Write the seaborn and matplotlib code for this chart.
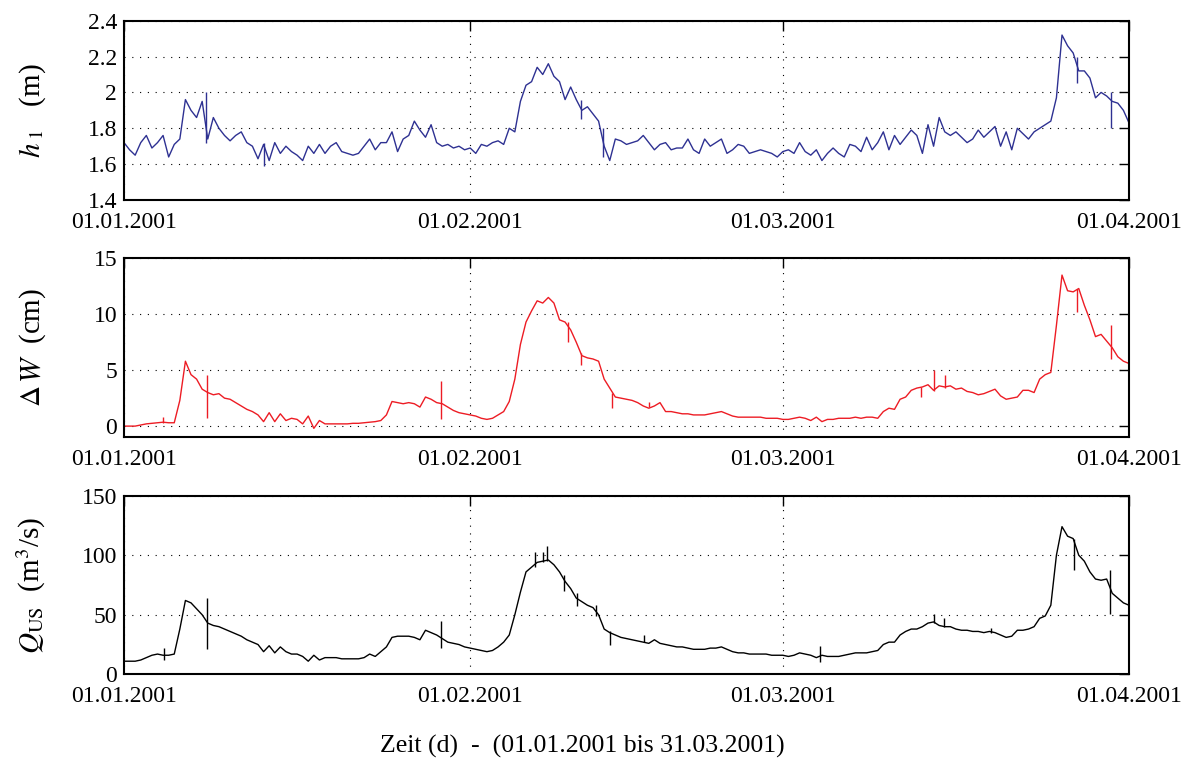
import numpy as np
import pandas as pd
import matplotlib
matplotlib.use("Agg")
import matplotlib.pyplot as plt
from matplotlib.ticker import FuncFormatter
import seaborn as sns

# ---------------- data (0.5-day steps, day 0 = 01.01.2001) ----------------
step_days = 0.5

h1_m = [
    1.72, 1.68, 1.65, 1.72, 1.76, 1.69, 1.72, 1.76, 1.64, 1.71,
    1.74, 1.96, 1.90, 1.86, 1.95, 1.74, 1.86, 1.80, 1.76, 1.73,
    1.76, 1.78, 1.72, 1.70, 1.63, 1.71, 1.62, 1.72, 1.66, 1.70,
    1.67, 1.65, 1.62, 1.70, 1.66, 1.71, 1.66, 1.70, 1.72, 1.67,
    1.66, 1.65, 1.66, 1.70, 1.74, 1.68, 1.72, 1.72, 1.78, 1.67,
    1.74, 1.76, 1.84, 1.79, 1.75, 1.82, 1.72, 1.70, 1.71, 1.69,
    1.70, 1.68, 1.69, 1.66, 1.71, 1.70, 1.72, 1.73, 1.71, 1.80,
    1.78, 1.95, 2.04, 2.06, 2.14, 2.10, 2.16, 2.09, 2.06, 1.96,
    2.03, 1.96, 1.90, 1.92, 1.88, 1.84, 1.70, 1.62, 1.74, 1.73,
    1.71, 1.72, 1.73, 1.76, 1.72, 1.68, 1.71, 1.72, 1.68, 1.69,
    1.69, 1.74, 1.68, 1.66, 1.74, 1.70, 1.72, 1.74, 1.66, 1.68,
    1.71, 1.70, 1.66, 1.67, 1.68, 1.67, 1.66, 1.64, 1.67, 1.68,
    1.66, 1.72, 1.67, 1.65, 1.68, 1.62, 1.66, 1.69, 1.66, 1.64,
    1.71, 1.70, 1.67, 1.75, 1.68, 1.72, 1.78, 1.68, 1.76, 1.71,
    1.75, 1.79, 1.76, 1.66, 1.82, 1.70, 1.86, 1.78, 1.76, 1.78,
    1.75, 1.72, 1.74, 1.79, 1.75, 1.78, 1.81, 1.70, 1.78, 1.68,
    1.80, 1.77, 1.74, 1.78, 1.80, 1.82, 1.84, 1.97, 2.32, 2.26,
    2.22, 2.12, 2.12, 2.08, 1.97, 2.00, 1.98, 1.95, 1.94, 1.90,
    1.83,
]

dW_cm = [
    0.0, 0.0, 0.0, 0.1, 0.2, 0.25, 0.3, 0.35, 0.3, 0.3,
    2.3, 5.8, 4.6, 4.2, 3.3, 3.0, 2.8, 2.9, 2.5, 2.4,
    2.1, 1.8, 1.5, 1.3, 1.0, 0.4, 1.2, 0.4, 1.1, 0.5,
    0.7, 0.6, 0.2, 0.9, -0.2, 0.5, 0.2, 0.2, 0.2, 0.2,
    0.2, 0.25, 0.25, 0.3, 0.35, 0.4, 0.5, 1.0, 2.2, 2.1,
    2.0, 2.1, 2.0, 1.7, 2.6, 2.4, 2.1, 2.0, 1.7, 1.4,
    1.2, 1.1, 1.0, 0.9, 0.7, 0.6, 0.7, 1.0, 1.3, 2.2,
    4.2, 7.3, 9.3, 10.3, 11.2, 11.0, 11.5, 11.0, 9.5, 9.3,
    8.6, 7.5, 6.3, 6.1, 6.0, 5.8, 4.2, 3.4, 2.6, 2.5,
    2.4, 2.3, 2.1, 1.8, 1.6, 1.8, 2.1, 1.3, 1.3, 1.2,
    1.1, 1.1, 1.0, 1.0, 1.0, 1.1, 1.2, 1.3, 1.1, 0.9,
    0.8, 0.8, 0.8, 0.8, 0.8, 0.7, 0.7, 0.7, 0.6, 0.6,
    0.7, 0.8, 0.7, 0.5, 0.8, 0.4, 0.6, 0.6, 0.7, 0.7,
    0.7, 0.8, 0.7, 0.8, 0.8, 0.7, 1.3, 1.6, 1.5, 2.4,
    2.6, 3.2, 3.4, 3.5, 3.7, 3.2, 3.6, 3.5, 3.6, 3.3,
    3.4, 3.1, 3.0, 2.8, 2.9, 3.1, 3.3, 2.7, 2.4, 2.5,
    2.6, 3.2, 3.2, 3.0, 4.2, 4.6, 4.8, 9.0, 13.5, 12.1,
    12.0, 12.3, 10.8, 9.5, 8.0, 8.2, 7.6, 7.0, 6.2, 5.8,
    5.6,
]

Q_m3s = [
    11, 11, 11, 12, 14, 16, 17, 16, 16, 17,
    38, 62, 60, 55, 50, 43, 41, 40, 38, 36,
    34, 32, 29, 27, 25, 19, 24, 18, 23, 19,
    17, 17, 15, 11, 16, 12, 14, 14, 14, 13,
    13, 13, 13, 14, 17, 15, 19, 23, 31, 32,
    32, 32, 31, 29, 37, 35, 33, 30, 27, 26,
    25, 23, 22, 21, 20, 19, 20, 23, 27, 33,
    50, 69, 86, 90, 94, 95, 96, 92, 86, 78,
    72, 64, 61, 58, 56, 50, 38, 35, 33, 31,
    30, 29, 28, 27, 26, 29, 26, 25, 24, 23,
    23, 22, 21, 21, 21, 22, 22, 23, 21, 19,
    18, 18, 17, 17, 17, 17, 16, 16, 16, 15,
    16, 18, 17, 16, 14, 16, 15, 15, 15, 16,
    17, 18, 18, 18, 19, 20, 25, 27, 27, 33,
    36, 38, 38, 40, 43, 44, 41, 40, 40, 38,
    37, 37, 36, 36, 35, 36, 35, 33, 31, 32,
    37, 37, 38, 40, 47, 49, 58, 100, 124, 116,
    114, 100, 95, 86, 80, 79, 80, 68, 64, 60,
    58,
]

# short spikes in the records: day, lower end, upper end
h1_spike_day = [7.3, 12.5, 40.9, 42.9, 85.3, 88.4]
h1_spike_lo = [1.72, 1.59, 1.85, 1.64, 2.05, 1.80]
h1_spike_hi = [2.00, 1.72, 1.96, 1.80, 2.20, 2.00]

dW_spike_day = [3.5, 7.4, 28.4, 39.8, 40.9, 43.7, 47.0, 71.4, 72.5, 73.5, 85.3, 88.4]
dW_spike_lo = [0.3, 0.7, 0.6, 7.5, 5.5, 1.6, 1.7, 2.6, 3.1, 3.4, 10.2, 6.0]
dW_spike_hi = [0.8, 4.6, 4.0, 9.3, 6.5, 3.0, 2.2, 3.5, 5.0, 4.6, 12.3, 9.0]

Q_spike_day = [3.6, 7.4, 28.4, 36.8, 37.5, 37.9, 39.4, 40.6, 42.3, 43.5, 46.6, 62.3, 72.5, 73.4, 77.6, 85.1, 88.3]
Q_spike_lo = [12, 21, 22, 90, 94, 95, 70, 57, 49, 25, 27, 10, 43, 40, 35, 88, 51]
Q_spike_hi = [22, 64, 45, 103, 103, 108, 83, 68, 58, 36, 33, 24, 51, 47, 39, 114, 88]

tick_days = [0, 31, 59, 90]
tick_labels = ["01.01.2001", "01.02.2001", "01.03.2001", "01.04.2001"]

# ---------------- style ----------------
sns.set_theme(style="white")
plt.rcParams["font.family"] = ["Liberation Serif", "DejaVu Serif"]
plt.rcParams["mathtext.fontset"] = "stix"
plt.rcParams["text.color"] = "black"
plt.rcParams["axes.labelcolor"] = "black"

W, H = 1193, 766
fig = plt.figure(figsize=(W / 100, H / 100), dpi=100)
fig.patch.set_facecolor("white")

ax_left = 124 / W
ax_width = 1005 / W
boxes = [(20.7, 200.0), (258.3, 437.3), (495.7, 674.3)]

panels = [
    dict(y=h1_m, color="#2E3192", ylim=(1.4, 2.4), yticks=[1.4, 1.6, 1.8, 2.0, 2.2, 2.4],
         label=r"$h_{\;1}$   (m)", sd=h1_spike_day, slo=h1_spike_lo, shi=h1_spike_hi),
    dict(y=dW_cm, color="#ED1C24", ylim=(-1, 15), yticks=[0, 5, 10, 15],
         label=r"$\Delta\,W$  (cm)", sd=dW_spike_day, slo=dW_spike_lo, shi=dW_spike_hi),
    dict(y=Q_m3s, color="black", ylim=(0, 150), yticks=[0, 50, 100, 150],
         label=r"$Q_{\mathrm{US}}$  (m$^3$/s)", sd=Q_spike_day, slo=Q_spike_lo, shi=Q_spike_hi),
]

fmt = FuncFormatter(lambda v, p: f"{v:g}")

for (top, bot), p in zip(boxes, panels):
    ax = fig.add_axes([ax_left, 1 - bot / H, ax_width, (bot - top) / H])
    vals = p["y"]
    days = np.arange(len(vals)) * step_days
    df = pd.DataFrame({"day": days, "val": vals})
    sns.lineplot(data=df, x="day", y="val", ax=ax, color=p["color"], lw=1.0,
                 estimator=None, sort=False)
    ax.vlines(p["sd"], p["slo"], p["shi"], color=p["color"], lw=1.0)

    ax.set_xlim(0, 90)
    ax.set_ylim(*p["ylim"])
    ax.set_xticks(tick_days)
    ax.set_xticklabels(tick_labels)
    ax.set_yticks(p["yticks"])
    ax.yaxis.set_major_formatter(fmt)
    ax.set_xlabel("")
    ax.set_ylabel(p["label"], fontsize=21, color="black")
    ax.yaxis.set_label_coords((48 - 124) / 1005, 0.5)

    ax.grid(True, color="black", linestyle=(0, (1, 6)), lw=0.8)
    ax.tick_params(direction="in", length=7, width=1, top=True, right=True,
                   labelsize=17, colors="black")
    ax.tick_params(axis="x", pad=8.5)
    ax.tick_params(axis="y", pad=5)
    for s in ax.spines.values():
        s.set_visible(True)
        s.set_color("black")
        s.set_linewidth(1.5)
    ax.set_facecolor("white")

fig.text(582 / W, 1 - 746 / H, "Zeit (d)  -  (01.01.2001 bis 31.03.2001)",
         ha="center", va="center", fontsize=18.5, color="black")

fig.savefig("out.png", dpi=100, facecolor="white")
